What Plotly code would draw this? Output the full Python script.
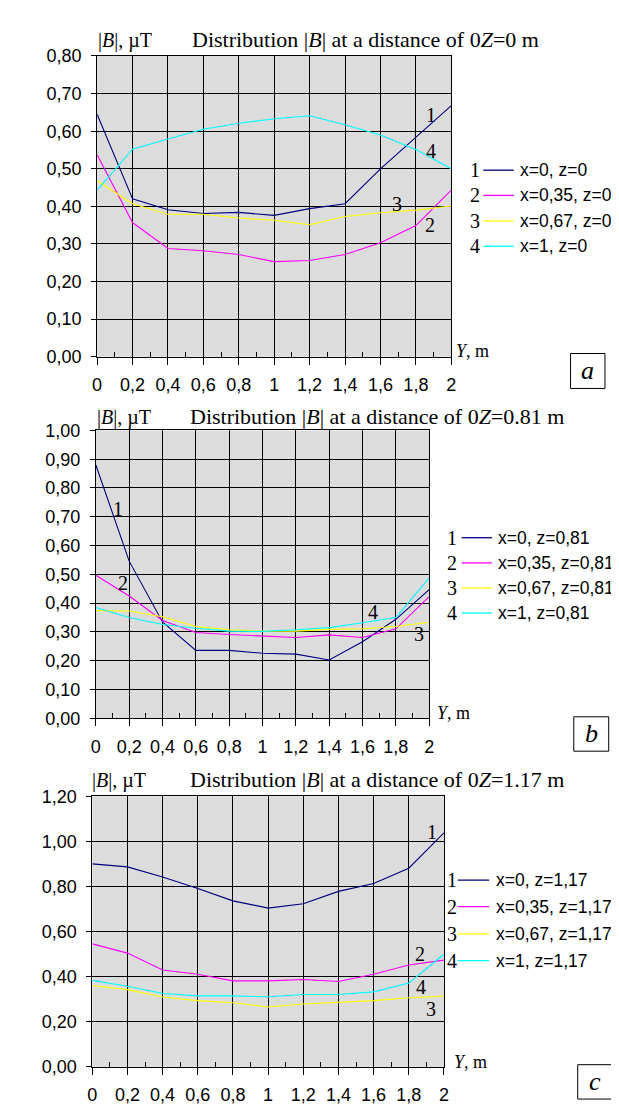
import plotly.graph_objects as go

W, H = 619, 1104

Y = [0, 0.2, 0.4, 0.6, 0.8, 1.0, 1.2, 1.4, 1.6, 1.8, 2.0]
x_tick_text = ["0", "0,2", "0,4", "0,6", "0,8", "1", "1,2", "1,4", "1,6", "1,8", "2"]

# Panel a: 0Z = 0 m
a1 = [0.645, 0.420, 0.391, 0.381, 0.384, 0.376, 0.394, 0.407, 0.500, 0.583, 0.668]
a2 = [0.537, 0.357, 0.288, 0.282, 0.272, 0.253, 0.256, 0.272, 0.303, 0.349, 0.443]
a3 = [0.468, 0.407, 0.379, 0.379, 0.369, 0.363, 0.351, 0.373, 0.383, 0.390, 0.401]
a4 = [0.443, 0.552, 0.579, 0.605, 0.621, 0.633, 0.641, 0.617, 0.590, 0.551, 0.500]
a_names = ["x=0, z=0", "x=0,35, z=0", "x=0,67, z=0", "x=1, z=0"]

# Panel b: 0Z = 0.81 m
b1 = [0.880, 0.546, 0.335, 0.236, 0.236, 0.226, 0.223, 0.203, 0.266, 0.344, 0.447]
b2 = [0.497, 0.425, 0.340, 0.298, 0.291, 0.287, 0.281, 0.290, 0.281, 0.311, 0.423]
b3 = [0.374, 0.373, 0.353, 0.319, 0.308, 0.303, 0.303, 0.309, 0.311, 0.319, 0.334]
b4 = [0.385, 0.350, 0.326, 0.313, 0.303, 0.302, 0.308, 0.315, 0.332, 0.350, 0.488]
b_names = ["x=0, z=0,81", "x=0,35, z=0,81", "x=0,67, z=0,81", "x=1, z=0,81"]

# Panel c: 0Z = 1.17 m
c1 = [0.900, 0.887, 0.842, 0.791, 0.736, 0.704, 0.723, 0.778, 0.813, 0.881, 1.038]
c2 = [0.545, 0.504, 0.429, 0.410, 0.381, 0.381, 0.387, 0.378, 0.410, 0.451, 0.473]
c3 = [0.360, 0.342, 0.309, 0.293, 0.284, 0.265, 0.278, 0.287, 0.293, 0.306, 0.313]
c4 = [0.383, 0.357, 0.325, 0.314, 0.314, 0.310, 0.320, 0.320, 0.332, 0.371, 0.499]
c_names = ["x=0, z=1,17", "x=0,35, z=1,17", "x=0,67, z=1,17", "x=1, z=1,17"]

a_ticks = [0.0, 0.1, 0.2, 0.3, 0.4, 0.5, 0.6, 0.7, 0.8]
a_ticktext = ["0,00", "0,10", "0,20", "0,30", "0,40", "0,50", "0,60", "0,70", "0,80"]
b_ticks = [0.0, 0.1, 0.2, 0.3, 0.4, 0.5, 0.6, 0.7, 0.8, 0.9, 1.0]
b_ticktext = ["0,00", "0,10", "0,20", "0,30", "0,40", "0,50", "0,60", "0,70", "0,80", "0,90", "1,00"]
c_ticks = [0.0, 0.2, 0.4, 0.6, 0.8, 1.0, 1.2]
c_ticktext = ["0,00", "0,20", "0,40", "0,60", "0,80", "1,00", "1,20"]

titles = ["Distribution |<i>B</i>| at a distance of 0<i>Z</i>=0 m",
          "Distribution |<i>B</i>| at a distance of 0<i>Z</i>=0.81 m",
          "Distribution |<i>B</i>| at a distance of 0<i>Z</i>=1.17 m"]
panel_letters = ["a", "b", "c"]

colors = ["#000080", "#ff00ff", "#ffff00", "#00ffff"]
BG = "#dcdcdc"
SERIF = "Liberation Serif, Times New Roman, serif"
SANS = "Liberation Sans, Arial, sans-serif"


def px(x):
    return x / W


def py(y):
    return 1 - y / H


# layout geometry (pixels)
panels = [
    dict(l=85.5, r=445.5, t=38.7, b=345.0, yr=0.8, yt=a_ticks, ytt=a_ticktext,
         data=[a1, a2, a3, a4], names=a_names,
         title=(358, 22), ylab=(84, 23),
         leg_num_x=470, leg_line=(478, 509), leg_txt_x=513, leg_y=[155, 180.7, 206.7, 232.5],
         box=(566.7, 341.7, 601.7, 377.3), ym=(448, 339),
         labels=[("1", 425, 99), ("4", 425, 135), ("3", 390, 189), ("2", 424, 211)]),
    dict(l=84.2, r=423.0, t=420.0, b=713.3, yr=1.0, yt=b_ticks, ytt=b_ticktext,
         data=[b1, b2, b3, b4], names=b_names,
         title=(370, 406), ylab=(83, 407),
         leg_num_x=446.7, leg_line=(456, 487), leg_txt_x=491, leg_y=[529.3, 555, 580.5, 606],
         box=(570, 711.7, 605.5, 746.7), ym=(429, 708),
         labels=[("1", 107, 500), ("2", 112, 575), ("4", 366, 605), ("3", 413, 627)]),
    dict(l=80.6, r=438.0, t=792.7, b=1068.0, yr=1.2, yt=c_ticks, ytt=c_ticktext,
         data=[c1, c2, c3, c4], names=c_names,
         title=(370, 776), ylab=(78, 777),
         leg_num_x=446.7, leg_line=(452, 484), leg_txt_x=489, leg_y=[878, 905, 932.7, 960],
         box=(574, 1066, 608.7, 1101), ym=(446, 1063),
         labels=[("1", 426, 829), ("2", 414, 953), ("4", 415, 987), ("3", 425, 1009)]),
]

fig = go.Figure()
shapes = []
annotations = []
layout = {}

for i, p in enumerate(panels):
    k = "" if i == 0 else str(i + 1)
    xa = "x" + k
    ya = "y" + k
    for j in range(4):
        fig.add_trace(go.Scatter(x=Y, y=p["data"][j], mode="lines", name=p["names"][j],
                                 line=dict(color=colors[j], width=1.1),
                                 xaxis=xa, yaxis=ya, showlegend=False, hoverinfo="skip"))
    layout["xaxis" + k] = dict(
        domain=[px(p["l"]), px(p["r"])], anchor=ya, range=[0, 2],
        tickvals=Y, ticktext=x_tick_text, ticks="outside", ticklen=7, tickcolor="black",
        tickwidth=1, showgrid=True, gridcolor="black", gridwidth=1,
        showline=True, linecolor="black", linewidth=1, mirror=True, zeroline=False,
        tickfont=dict(family=SANS, size=18, color="black"), ticklabelstandoff=5,
        minor=dict(tickvals=[0.1, 0.3, 0.5, 0.7, 0.9, 1.1, 1.3, 1.5, 1.7, 1.9],
                   ticks="inside", ticklen=5, tickcolor="black", showgrid=False),
        fixedrange=True,
    )
    layout["yaxis" + k] = dict(
        domain=[py(p["b"]), py(p["t"])], anchor=xa, range=[0, p["yr"]],
        tickvals=p["yt"], ticktext=p["ytt"], ticks="outside", ticklen=5, tickcolor="black",
        showgrid=True, gridcolor="black", gridwidth=1,
        showline=True, linecolor="black", linewidth=1, mirror=True, zeroline=False,
        tickfont=dict(family=SANS, size=18, color="black"), ticklabelstandoff=6,
        fixedrange=True,
    )
    # plot background
    shapes.append(dict(type="rect", xref="paper", yref="paper", layer="below",
                       x0=px(p["l"]), x1=px(p["r"]), y0=py(p["b"]), y1=py(p["t"]),
                       fillcolor=BG, line=dict(width=0)))
    # title
    annotations.append(dict(text=titles[i], xref="paper", yref="paper",
                            x=px(p["title"][0]), y=py(p["title"][1]), showarrow=False,
                            xanchor="center", yanchor="middle",
                            font=dict(family=SERIF, size=22, color="black")))
    annotations.append(dict(text="|<i>B</i>|, µT", xref="paper", yref="paper",
                            x=px(p["ylab"][0]), y=py(p["ylab"][1]), showarrow=False,
                            xanchor="left", yanchor="middle",
                            font=dict(family=SERIF, size=20, color="black")))
    annotations.append(dict(text="<i>Y</i>, m", xref="paper", yref="paper",
                            x=px(p["ym"][0]), y=py(p["ym"][1]), showarrow=False,
                            xanchor="left", yanchor="middle",
                            font=dict(family=SERIF, size=18, color="black")))
    # legend
    for j in range(4):
        yy = p["leg_y"][j]
        annotations.append(dict(text=str(j + 1), xref="paper", yref="paper",
                                x=px(p["leg_num_x"]), y=py(yy), showarrow=False,
                                xanchor="center", yanchor="middle",
                                font=dict(family=SERIF, size=20, color="black")))
        shapes.append(dict(type="line", xref="paper", yref="paper",
                           x0=px(p["leg_line"][0]), x1=px(p["leg_line"][1]),
                           y0=py(yy), y1=py(yy), line=dict(color=colors[j], width=1.3)))
        annotations.append(dict(text=p["names"][j], xref="paper", yref="paper",
                                x=px(p["leg_txt_x"]), y=py(yy), showarrow=False,
                                xanchor="left", yanchor="middle",
                                font=dict(family=SANS, size=17.5, color="black")))
    # curve number labels
    for (t, lx, ly) in p["labels"]:
        annotations.append(dict(text=t, xref="paper", yref="paper",
                                x=px(lx), y=py(ly), showarrow=False,
                                xanchor="center", yanchor="middle",
                                font=dict(family=SERIF, size=20, color="black")))
    # panel letter box
    bx0, by0, bx1, by1 = p["box"]
    shapes.append(dict(type="rect", xref="paper", yref="paper",
                       x0=px(bx0), x1=px(bx1), y0=py(by1), y1=py(by0),
                       line=dict(color="black", width=1), fillcolor="rgba(0,0,0,0)"))
    annotations.append(dict(text="<i>" + panel_letters[i] + "</i>", xref="paper", yref="paper",
                            x=px((bx0 + bx1) / 2), y=py((by0 + by1) / 2), showarrow=False,
                            xanchor="center", yanchor="middle",
                            font=dict(family=SERIF, size=26, color="black")))

fig.update_layout(
    width=W, height=H, margin=dict(l=0, r=0, t=0, b=0),
    paper_bgcolor="white", plot_bgcolor="rgba(0,0,0,0)",
    showlegend=False, shapes=shapes, annotations=annotations,
    **layout,
)

fig.write_html("out.html")
